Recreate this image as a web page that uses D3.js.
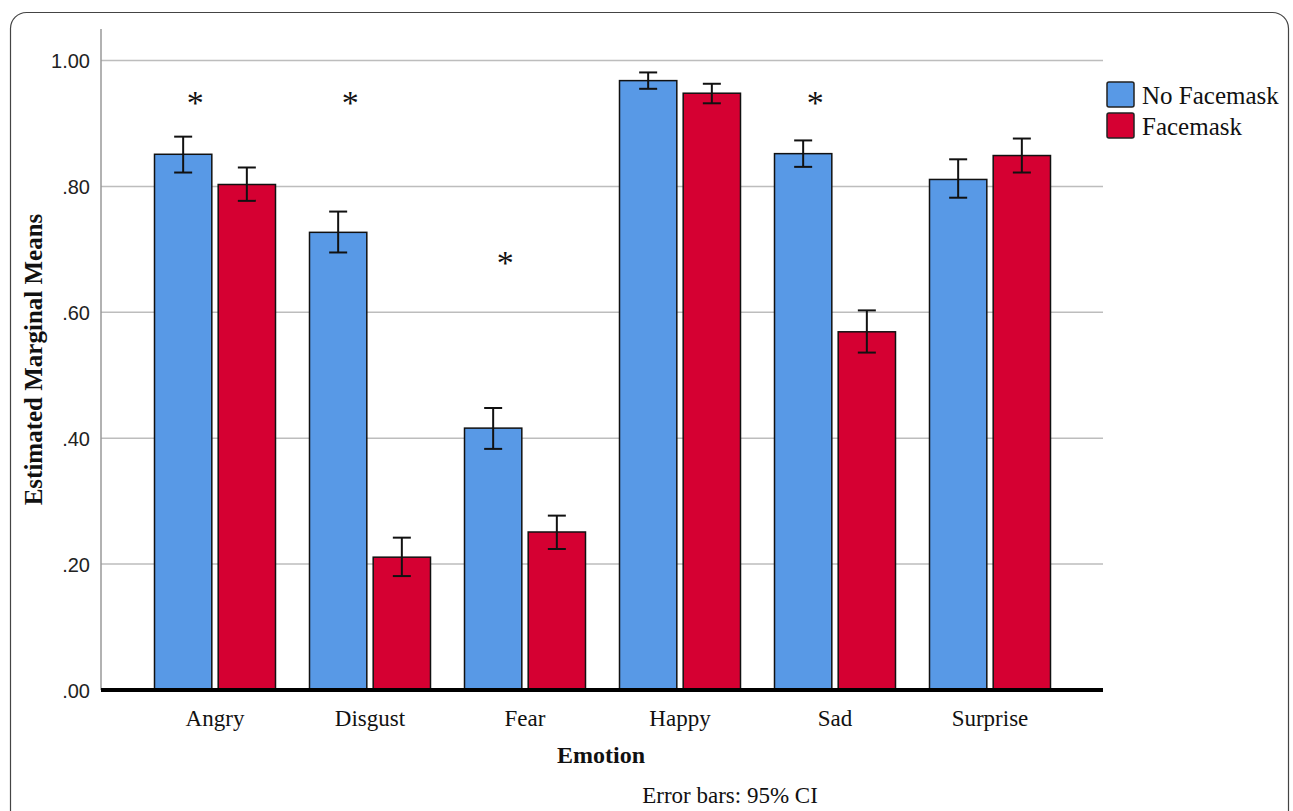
<!DOCTYPE html>
<html>
<head>
<meta charset="utf-8">
<script src="https://cdn.jsdelivr.net/npm/d3@7/dist/d3.min.js"></script>
<style>
  html, body { margin: 0; padding: 0; background: #fff; }
  svg { display: block; }
</style>
</head>
<body>
<svg id="chart" width="1293" height="811"></svg>
<script>
const categories = ["Angry", "Disgust", "Fear", "Happy", "Sad", "Surprise"];
const seriesNames = ["No Facemask", "Facemask"];
const noMaskMean = [0.851, 0.727, 0.416, 0.968, 0.852, 0.811];
const noMaskLow  = [0.822, 0.695, 0.383, 0.955, 0.831, 0.782];
const noMaskHigh = [0.879, 0.760, 0.448, 0.981, 0.873, 0.843];
const maskMean   = [0.803, 0.211, 0.251, 0.948, 0.569, 0.849];
const maskLow    = [0.777, 0.181, 0.224, 0.932, 0.536, 0.822];
const maskHigh   = [0.830, 0.242, 0.277, 0.963, 0.603, 0.876];
const yTicks = [0, 0.2, 0.4, 0.6, 0.8, 1.0];
const starCategories = ["Angry", "Disgust", "Fear", "Sad"];
const starValues = [0.94, 0.94, 0.686, 0.94];

const colors = ["#5899e6", "#d50032"];
const serif = "'Liberation Serif', 'Times New Roman', serif";
const sans = "'Liberation Sans', Arial, sans-serif";

const svg = d3.select("#chart");

// frame
svg.append("rect")
  .attr("x", 10.5).attr("y", 12.5)
  .attr("width", 1278).attr("height", 840)
  .attr("rx", 16).attr("ry", 16)
  .attr("fill", "none").attr("stroke", "#444").attr("stroke-width", 1.2);

const plotLeft = 101, plotRight = 1103, plotBottom = 690, plotTop = 29;

const y = d3.scaleLinear().domain([0, 1.05]).range([plotBottom, plotTop]);
const x0 = d3.scaleBand().domain(categories).range([137.5, 1067.5]).paddingInner(0).paddingOuter(0);
const x1 = d3.scaleBand().domain(seriesNames).range([17, x0.bandwidth() - 17]).paddingInner(0.1);

// gridlines
svg.append("g").selectAll("line").data(yTicks.filter(d => d > 0)).join("line")
  .attr("x1", plotLeft).attr("x2", plotRight)
  .attr("y1", d => y(d)).attr("y2", d => y(d))
  .attr("stroke", "#bdbdbd").attr("stroke-width", 1.5);

// y axis
const fmt = d => d3.format(".2f")(d).replace(/^0\./, ".");
const yAxis = svg.append("g")
  .attr("transform", `translate(${plotLeft},0)`)
  .call(d3.axisLeft(y).tickValues(yTicks).tickFormat(fmt).tickSize(0).tickPadding(11));
yAxis.select(".domain").remove();
yAxis.append("line").attr("x1", 0).attr("x2", 0).attr("y1", plotTop).attr("y2", plotBottom)
  .attr("stroke", "#999").attr("stroke-width", 1.5);
yAxis.selectAll(".tick text")
  .attr("font-family", sans).attr("font-size", 20).attr("fill", "#222").attr("dy", "0.35em");

// bars
const rows = categories.map((c, i) => ({
  cat: c,
  vals: [
    { s: seriesNames[0], m: noMaskMean[i], lo: noMaskLow[i], hi: noMaskHigh[i], c: colors[0] },
    { s: seriesNames[1], m: maskMean[i], lo: maskLow[i], hi: maskHigh[i], c: colors[1] }
  ]
}));

const groups = svg.append("g").selectAll("g").data(rows).join("g")
  .attr("transform", d => `translate(${x0(d.cat)},0)`);

groups.selectAll("rect").data(d => d.vals).join("rect")
  .attr("x", d => x1(d.s)).attr("width", x1.bandwidth())
  .attr("y", d => y(d.m)).attr("height", d => y(0) - y(d.m))
  .attr("fill", d => d.c).attr("stroke", "#111").attr("stroke-width", 1.5);

const eb = groups.selectAll("g.eb").data(d => d.vals).join("g").attr("class", "eb");
const cx = d => x1(d.s) + x1.bandwidth() / 2;
eb.append("line").attr("x1", cx).attr("x2", cx).attr("y1", d => y(d.lo)).attr("y2", d => y(d.hi))
  .attr("stroke", "#111").attr("stroke-width", 2);
eb.append("line").attr("x1", d => cx(d) - 9).attr("x2", d => cx(d) + 9).attr("y1", d => y(d.hi)).attr("y2", d => y(d.hi))
  .attr("stroke", "#111").attr("stroke-width", 2);
eb.append("line").attr("x1", d => cx(d) - 9).attr("x2", d => cx(d) + 9).attr("y1", d => y(d.lo)).attr("y2", d => y(d.lo))
  .attr("stroke", "#111").attr("stroke-width", 2);

// x baseline
svg.append("line").attr("x1", plotLeft).attr("x2", plotRight).attr("y1", y(0)).attr("y2", y(0))
  .attr("stroke", "#000").attr("stroke-width", 4);

// x category labels
svg.append("g").selectAll("text").data(categories).join("text")
  .attr("x", d => x0(d) + x0.bandwidth() / 2).attr("y", 726)
  .attr("text-anchor", "middle").attr("font-family", serif).attr("font-size", 23).attr("fill", "#111")
  .text(d => d);

// asterisks
svg.append("g").selectAll("text").data(starCategories).join("text")
  .attr("x", (d, i) => x0(d) + x1(seriesNames[0]) + x1.bandwidth() / 2 + 12)
  .attr("y", (d, i) => y(starValues[i]) + 16)
  .attr("text-anchor", "middle").attr("font-family", serif).attr("font-size", 34).attr("fill", "#111")
  .text("*");

// axis titles
svg.append("text").attr("x", 601).attr("y", 763).attr("text-anchor", "middle")
  .attr("font-family", serif).attr("font-weight", "bold").attr("font-size", 24).attr("fill", "#111")
  .text("Emotion");
svg.append("text").attr("transform", `translate(42,${(plotTop + plotBottom) / 2}) rotate(-90)`)
  .attr("text-anchor", "middle")
  .attr("font-family", serif).attr("font-weight", "bold").attr("font-size", 25).attr("fill", "#111")
  .text("Estimated Marginal Means");
svg.append("text").attr("x", 730).attr("y", 803).attr("text-anchor", "middle")
  .attr("font-family", serif).attr("font-size", 23).attr("fill", "#111")
  .text("Error bars: 95% CI");

// legend
const leg = svg.append("g").selectAll("g").data(seriesNames).join("g")
  .attr("transform", (d, i) => `translate(1107,${82 + i * 31})`);
leg.append("rect").attr("width", 27).attr("height", 25).attr("rx", 2)
  .attr("fill", (d, i) => colors[i]).attr("stroke", "#222").attr("stroke-width", 1.5);
leg.append("text").attr("x", 35).attr("y", 22)
  .attr("font-family", serif).attr("font-size", 25).attr("fill", "#111")
  .text(d => d);
</script>
</body>
</html>
